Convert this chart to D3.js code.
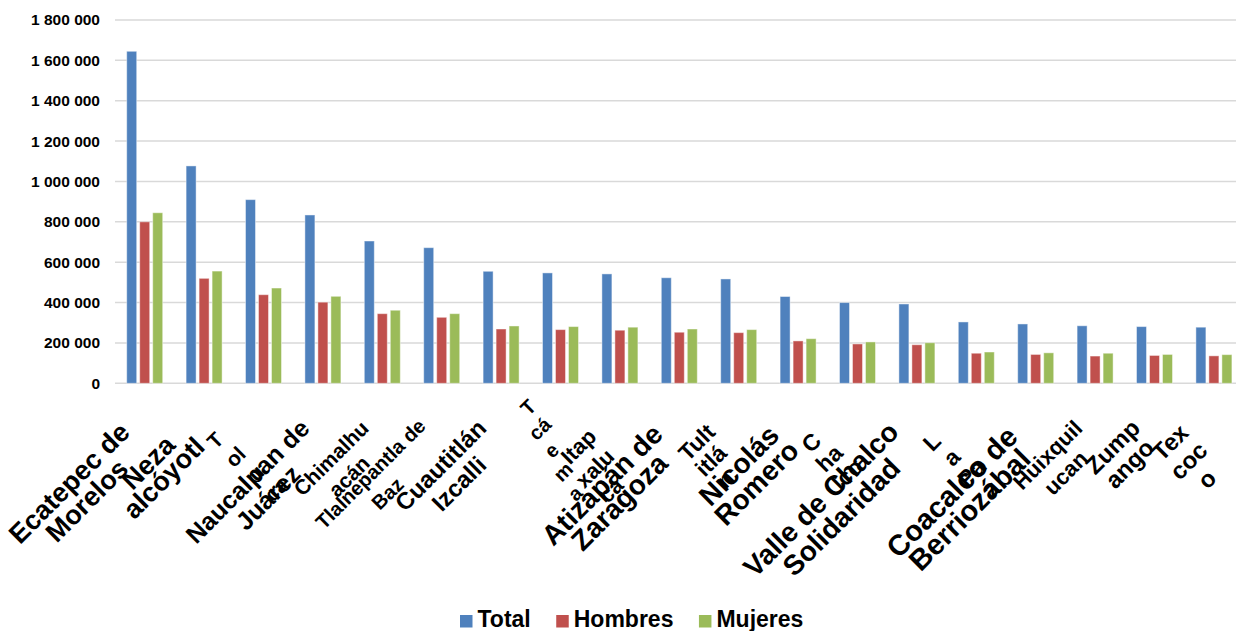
<!DOCTYPE html>
<html>
<head>
<meta charset="utf-8">
<script src="https://cdn.jsdelivr.net/npm/d3@7"></script>
<style>
  html, body { margin: 0; padding: 0; background: #fff; }
  svg { display: block; }
  text { font-family: "Liberation Sans", Arial, sans-serif; font-weight: bold; fill: #000; }
</style>
</head>
<body>
<svg id="chart" width="1236" height="631"></svg>
<script>
// ---- data ----
const categories = [
  "Ecatepec de Morelos", "Nezahualcóyotl", "Toluca", "Naucalpan de Juárez",
  "Chimalhuacán", "Tlalnepantla de Baz", "Cuautitlán Izcalli", "Tecámac",
  "Ixtapaluca", "Atizapán de Zaragoza", "Tultitlán", "Nicolás Romero",
  "Chalco", "Valle de Chalco Solidaridad", "La Paz", "Coacalco de Berriozábal",
  "Huixquilucan", "Zumpango", "Texcoco"
];
const seriesNames = ["Total", "Hombres", "Mujeres"];
const total   = [1645000, 1077000, 910000, 834000, 705000, 672000, 555000, 547000, 542000, 523000, 517000, 430000, 400000, 393000, 304000, 294000, 285000, 281000, 278000];
const hombres = [ 800000,  520000, 439000, 402000, 345000, 327000, 269000, 266000, 263000, 253000, 251000, 210000, 195000, 191000, 149000, 143000, 135000, 138000, 136000];
const mujeres = [ 845000,  556000, 472000, 431000, 362000, 345000, 284000, 281000, 278000, 269000, 266000, 221000, 205000, 201000, 155000, 151000, 149000, 143000, 142000];
const yTicks  = [0, 200000, 400000, 600000, 800000, 1000000, 1200000, 1400000, 1600000, 1800000];
// category label text as it is broken into lines in the picture
const labelLines = [
  ["Ecatepec de", "Morelos"], ["Neza", "alcóyotl"], ["T", "ol", "u", "ca"], ["Naucalpan de", "Juárez"],
  ["Chimalhu", "acán"], ["Tlalnepantla de", "Baz"], ["Cuautitlán", "Izcalli"], ["T", "cá", "e", "m", "a"],
  ["Itap", "xalu", "ca"], ["Atizapán de", "Zaragoza"], ["Tult", "itlá", "n"], ["Nicolás", "Romero"],
  ["C", "ha", "lco"], ["Valle de Chalco", "Solidaridad"], ["L", "a", "Pa", "z"], ["Coacalco de", "Berriozábal"],
  ["Huixquil", "ucan"], ["Zump", "ango"], ["Tex", "coc", "o"]
];

// ---- layout / style ----
const colors = ["#4F81BD", "#C0504D", "#9BBB59"];
const W = 1236, H = 631;
const plot = { left: 115, right: 1243.6, top: 20, bottom: 383.3 };
// label placement: [dx from tick, dy below axis, font size, line step, along shift]
const labelLayout = [
  [-75.7, 99.5, 27, 25, 0], [-56.1, 79, 27, 22, 0], [-48.5, 57, 21, 26, 2.8], [-75.4, 98, 25, 26, 3],
  [-51.3, 75, 21, 25.5, 0], [-71.2, 90.5, 20, 26, -2], [-60.6, 82, 24, 26, 0], [-32.5, 24, 20, 23.5, -6.9],
  [-41.5, 63, 22, 27, -4], [-77.4, 101.2, 28, 24.5, 0], [-42, 59, 23, 23, -3], [-59.4, 82, 28, 25, 0],
  [-46.3, 59, 23, 24, 1.4], [-96.2, 116, 28, 27, 2], [-44.6, 58.5, 23, 25, 3], [-84, 108.5, 29, 25, 0],
  [-47.5, 71.5, 22, 25.5, 0], [-42, 63.5, 24, 24, 0], [-43.8, 59, 24, 26, 0]
];

const svg = d3.select("#chart");
svg.append("rect").attr("width", W).attr("height", H).attr("fill", "#fff");

const x0 = d3.scaleBand().domain(categories).range([plot.left, plot.right]).paddingInner(0).paddingOuter(0);
const x1 = d3.scaleBand().domain(seriesNames).range([0, 36]).paddingInner(3 / 13).paddingOuter(0);
const y = d3.scaleLinear().domain([0, 1800000]).range([plot.bottom, plot.top]);
const groupOffset = (x0.bandwidth() - 36) / 2;

// gridlines
svg.append("g").selectAll("line").data(yTicks).join("line")
  .attr("x1", plot.left).attr("x2", W)
  .attr("y1", d => y(d)).attr("y2", d => y(d))
  .attr("stroke", "#D9D9D9").attr("stroke-width", 1.5);

// y axis labels
const yAxis = d3.axisLeft(y).tickValues(yTicks)
  .tickFormat(d => d3.format(",")(d).replace(/,/g, " ")).tickSize(0).tickPadding(0);
const yg = svg.append("g").attr("transform", "translate(100,0)").call(yAxis);
yg.select(".domain").remove();
yg.selectAll("text").attr("font-size", "15.5px").attr("font-family", "Liberation Sans, Arial, sans-serif")
  .attr("font-weight", "bold").attr("fill", "#000");

// bars
const rows = categories.map((c, i) => ({ c, vals: [total[i], hombres[i], mujeres[i]] }));
const groups = svg.append("g").selectAll("g").data(rows).join("g")
  .attr("transform", d => `translate(${x0(d.c) + groupOffset},0)`);
groups.selectAll("rect").data(d => d.vals.map((v, k) => ({ k, v }))).join("rect")
  .attr("x", d => x1(seriesNames[d.k]))
  .attr("width", x1.bandwidth())
  .attr("y", d => y(d.v))
  .attr("height", d => y(0) - y(d.v))
  .attr("fill", d => colors[d.k])
  .attr("stroke", "rgba(255,255,255,0.45)").attr("stroke-width", 1);

// category labels, rotated -45°
const lg = svg.append("g");
categories.forEach((c, i) => {
  const [dx, dy, fs, lh, sh] = labelLayout[i];
  const cx = x0(c) + x0.bandwidth() / 2 + dx;
  const cy = plot.bottom + dy;
  const g = lg.append("g").attr("transform", `translate(${cx},${cy}) rotate(-45)`);
  labelLines[i].forEach((t, j) => {
    g.append("text").attr("x", j * sh).attr("y", j * lh).attr("dy", "0.35em")
      .attr("text-anchor", "middle").attr("font-size", fs + "px").text(t);
  });
});

// legend
const leg = svg.append("g");
let lx = 460;
seriesNames.forEach((s, k) => {
  leg.append("rect").attr("x", lx).attr("y", 615).attr("width", 12.5).attr("height", 12.5).attr("fill", colors[k]);
  const t = leg.append("text").attr("x", lx + 17.5).attr("y", 627).attr("font-size", "23px").text(s);
  lx += 17.5 + t.node().getComputedTextLength() + 25.5;
});
</script>
</body>
</html>
